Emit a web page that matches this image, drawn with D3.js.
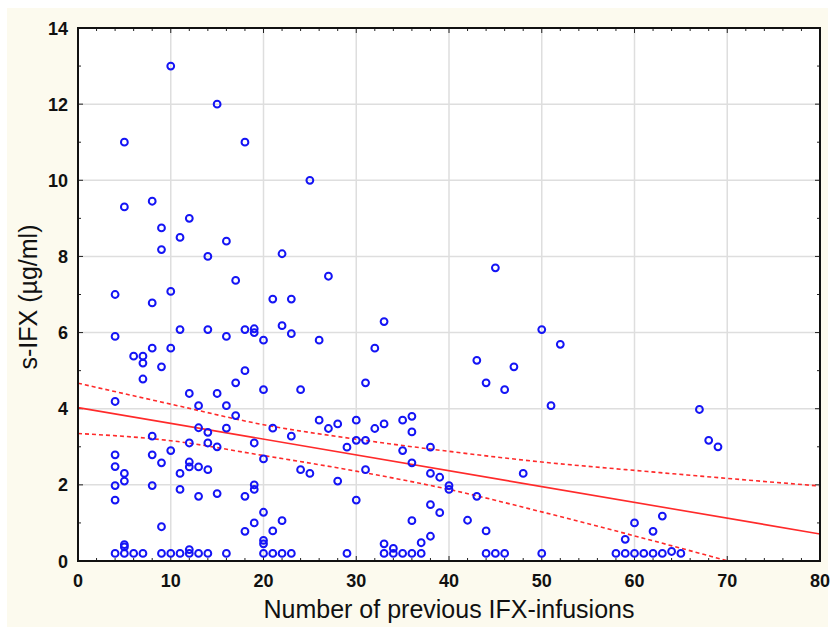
<!DOCTYPE html>
<html>
<head>
<meta charset="utf-8">
<script src="https://cdn.jsdelivr.net/npm/d3@7"></script>
<style>
body { margin: 0; background: #ffffff; }
.tick-label { font-family: 'Liberation Sans', Arial, sans-serif; font-weight: bold; font-size: 18px; fill: #111; }
.axis-title { font-family: 'Liberation Sans', Arial, sans-serif; font-size: 25px; fill: #111; }
</style>
</head>
<body>
<script>
//data
var infusions = [
    4, 4, 4, 4, 4, 4, 4, 4,
    5, 5, 5, 5, 5, 5, 5,
    6, 6,
    7, 7, 7, 7,
    8, 8, 8, 8, 8, 8,
    9, 9, 9, 9, 9, 9,
    10, 10, 10, 10, 10,
    11, 11, 11, 11, 11,
    12, 12, 12, 12, 12, 12, 12,
    13, 13, 13, 13, 13,
    14, 14, 14, 14, 14, 14,
    15, 15, 15, 15,
    16, 16, 16, 16, 16,
    17, 17, 17,
    18, 18, 18, 18, 18,
    19, 19, 19, 19, 19, 19,
    20, 20, 20, 20, 20, 20, 20,
    21, 21, 21, 21,
    22, 22, 22, 22,
    23, 23, 23, 23,
    24, 24,
    25, 25,
    26, 26,
    27, 27,
    28, 28,
    29, 29,
    30, 30, 30,
    31, 31, 31,
    32, 32,
    33, 33, 33, 33,
    34, 34,
    35, 35, 35,
    36, 36, 36, 36, 36,
    37, 37,
    38, 38, 38, 38,
    39, 39,
    40, 40,
    42,
    43, 43,
    44, 44, 44,
    45, 45,
    46, 46,
    47,
    48,
    50, 50,
    51,
    52,
    58,
    59, 59,
    60, 60,
    61,
    62, 62,
    63, 63,
    64,
    65,
    67,
    68,
    69
];
var sIFX = [
    7.0, 5.9, 4.19, 2.79, 2.48, 1.98, 1.6, 0.2,
    11.0, 9.3, 2.3, 2.1, 0.43, 0.37, 0.2,
    5.38, 0.2,
    5.38, 5.2, 4.78, 0.2,
    9.45, 6.78, 5.59, 3.28, 2.79, 1.98,
    8.75, 8.18, 5.1, 2.58, 0.9, 0.2,
    13.0, 7.08, 5.59, 2.9, 0.2,
    8.5, 6.08, 2.3, 1.88, 0.2,
    9.0, 4.4, 3.1, 2.6, 2.47, 0.3, 0.2,
    4.08, 3.5, 2.47, 1.7, 0.2,
    8.0, 6.08, 3.38, 3.1, 2.4, 0.2,
    12.0, 4.4, 3.0, 1.77,
    8.4, 5.9, 4.08, 3.49, 0.2,
    7.37, 4.68, 3.82,
    11.0, 6.08, 5.0, 1.7, 0.78,
    6.1, 6.0, 3.1, 2.0, 1.88, 1.0,
    5.8, 4.5, 2.68, 1.28, 0.54, 0.45, 0.2,
    6.88, 3.49, 0.79, 0.2,
    8.07, 6.18, 1.06, 0.2,
    6.88, 5.97, 3.28, 0.2,
    4.5, 2.4,
    10.0, 2.3,
    5.8, 3.7,
    7.48, 3.48,
    3.6, 2.1,
    2.99, 0.2,
    3.7, 3.17, 1.6,
    4.68, 3.17, 2.4,
    5.59, 3.48,
    6.29, 3.6, 0.45, 0.2,
    0.33, 0.2,
    3.7, 2.9, 0.2,
    3.8, 3.39, 2.58, 1.06, 0.2,
    0.48, 0.2,
    2.99, 2.3, 1.48, 0.65,
    2.2, 1.27,
    1.98, 1.88,
    1.07,
    5.27, 1.7,
    4.68, 0.79, 0.2,
    7.7, 0.2,
    4.5, 0.2,
    5.1,
    2.3,
    6.08, 0.2,
    4.08,
    5.69,
    0.2,
    0.57, 0.2,
    1.0, 0.2,
    0.2,
    0.78, 0.2,
    1.18, 0.2,
    0.25,
    0.2,
    3.98,
    3.17,
    3.0
];

//fitted line and confidence band
var fitX = [0, 80];
var fitY = [4.03, 0.71];
var bandX = [0, 10, 20, 30, 40, 50, 60, 70, 80];
var bandUpper = [4.67, 4.12, 3.58, 3.20, 2.88, 2.60, 2.38, 2.17, 1.97];
var bandLowerX = [0, 10, 20, 30, 40, 50, 60, 70.1];
var bandLower = [3.35, 3.16, 2.77, 2.36, 1.88, 1.29, 0.66, 0.0];

//ticks
var xTicks = [0, 10, 20, 30, 40, 50, 60, 70, 80];
var yTicks = [0, 2, 4, 6, 8, 10, 12, 14];
var xMinor = d3.range(0, 81, 2);
var yMinor = d3.range(0, 15, 1);

//layout (window.top is reserved, so plot_* names)
var svg_width = 830;
var svg_height = 628;
var plot_left = 78, plot_right = 820, plot_top = 28, plot_bottom = 561;

var svg = d3.select('body').append('svg')
    .attr('width', svg_width)
    .attr('height', svg_height);

//cream panel
svg.append('rect')
    .attr('x', 7).attr('y', 8)
    .attr('width', 821).attr('height', 619)
    .attr('fill', '#fcfaee');

var x = d3.scaleLinear().domain([0, 80]).range([plot_left, plot_right]);
var y = d3.scaleLinear().domain([0, 14]).range([plot_bottom, plot_top]);

//plot area
svg.append('rect')
    .attr('x', plot_left).attr('y', plot_top)
    .attr('width', plot_right - plot_left).attr('height', plot_bottom - plot_top)
    .attr('fill', '#ffffff');

svg.append('clipPath').attr('id', 'plot-clip')
    .append('rect')
    .attr('x', plot_left).attr('y', plot_top)
    .attr('width', plot_right - plot_left).attr('height', plot_bottom - plot_top);

//grid
var grid = svg.append('g').attr('stroke', '#dedede').attr('stroke-width', 1.5);
grid.selectAll('.gx').data(xTicks.slice(1, -1)).enter().append('line')
    .attr('x1', function(d) { return x(d); }).attr('x2', function(d) { return x(d); })
    .attr('y1', plot_top).attr('y2', plot_bottom);
grid.selectAll('.gy').data(yTicks.slice(1, -1)).enter().append('line')
    .attr('y1', function(d) { return y(d); }).attr('y2', function(d) { return y(d); })
    .attr('x1', plot_left).attr('x2', plot_right);

//inward ticks on all four sides
var ticks = svg.append('g').attr('stroke', '#222').attr('stroke-width', 1);
function isMajorX(d) { return d % 10 == 0; }
function isMajorY(d) { return d % 2 == 0; }
ticks.selectAll('.tb').data(xMinor).enter().append('line')
    .attr('x1', function(d) { return x(d); }).attr('x2', function(d) { return x(d); })
    .attr('y1', plot_bottom).attr('y2', function(d) { return plot_bottom - (isMajorX(d) ? 5 : 3); });
ticks.selectAll('.tt').data(xMinor).enter().append('line')
    .attr('x1', function(d) { return x(d); }).attr('x2', function(d) { return x(d); })
    .attr('y1', plot_top).attr('y2', function(d) { return plot_top + (isMajorX(d) ? 5 : 3); });
ticks.selectAll('.tl').data(yMinor).enter().append('line')
    .attr('y1', function(d) { return y(d); }).attr('y2', function(d) { return y(d); })
    .attr('x1', plot_left).attr('x2', function(d) { return plot_left + (isMajorY(d) ? 5 : 3); });
ticks.selectAll('.tr').data(yMinor).enter().append('line')
    .attr('y1', function(d) { return y(d); }).attr('y2', function(d) { return y(d); })
    .attr('x1', plot_right).attr('x2', function(d) { return plot_right - (isMajorY(d) ? 5 : 3); });

//fit line and band
var lines = svg.append('g').attr('clip-path', 'url(#plot-clip)')
    .attr('fill', 'none').attr('stroke', '#ff2a2a').attr('stroke-width', 1.6);
var line = d3.line()
    .x(function(d) { return x(d[0]); })
    .y(function(d) { return y(d[1]); })
    .curve(d3.curveMonotoneX);
lines.append('path').attr('d', line(d3.zip(fitX, fitY)));
lines.append('path').attr('d', line(d3.zip(bandX, bandUpper)))
    .attr('stroke-dasharray', '4,3');
lines.append('path').attr('d', line(d3.zip(bandLowerX, bandLower)))
    .attr('stroke-dasharray', '4,3');

//points
svg.append('g').attr('id', 'points')
    .selectAll('circle').data(d3.zip(infusions, sIFX)).enter().append('circle')
    .attr('cx', function(d) { return x(d[0]); })
    .attr('cy', function(d) { return y(d[1]); })
    .attr('r', 3.4)
    .attr('fill', 'none')
    .attr('stroke', '#1414f5')
    .attr('stroke-width', 2);

//frame
svg.append('rect')
    .attr('x', plot_left).attr('y', plot_top)
    .attr('width', plot_right - plot_left).attr('height', plot_bottom - plot_top)
    .attr('fill', 'none').attr('stroke', '#111').attr('stroke-width', 2);

//tick labels
svg.append('g').selectAll('text').data(xTicks).enter().append('text')
    .classed('tick-label', true)
    .attr('text-anchor', 'middle')
    .attr('x', function(d) { return x(d); })
    .attr('y', 587)
    .text(function(d) { return d; });
svg.append('g').selectAll('text').data(yTicks).enter().append('text')
    .classed('tick-label', true)
    .attr('text-anchor', 'end')
    .attr('x', 68)
    .attr('y', function(d) { return y(d) + 6.5; })
    .text(function(d) { return d; });

//axis titles
svg.append('text')
    .classed('axis-title', true)
    .attr('text-anchor', 'middle')
    .attr('x', 449)
    .attr('y', 618)
    .text('Number of previous IFX-infusions');
svg.append('text')
    .classed('axis-title', true)
    .attr('text-anchor', 'middle')
    .attr('transform', 'translate(37,297) rotate(-90)')
    .text('s-IFX (µg/ml)');
</script>
</body>
</html>
